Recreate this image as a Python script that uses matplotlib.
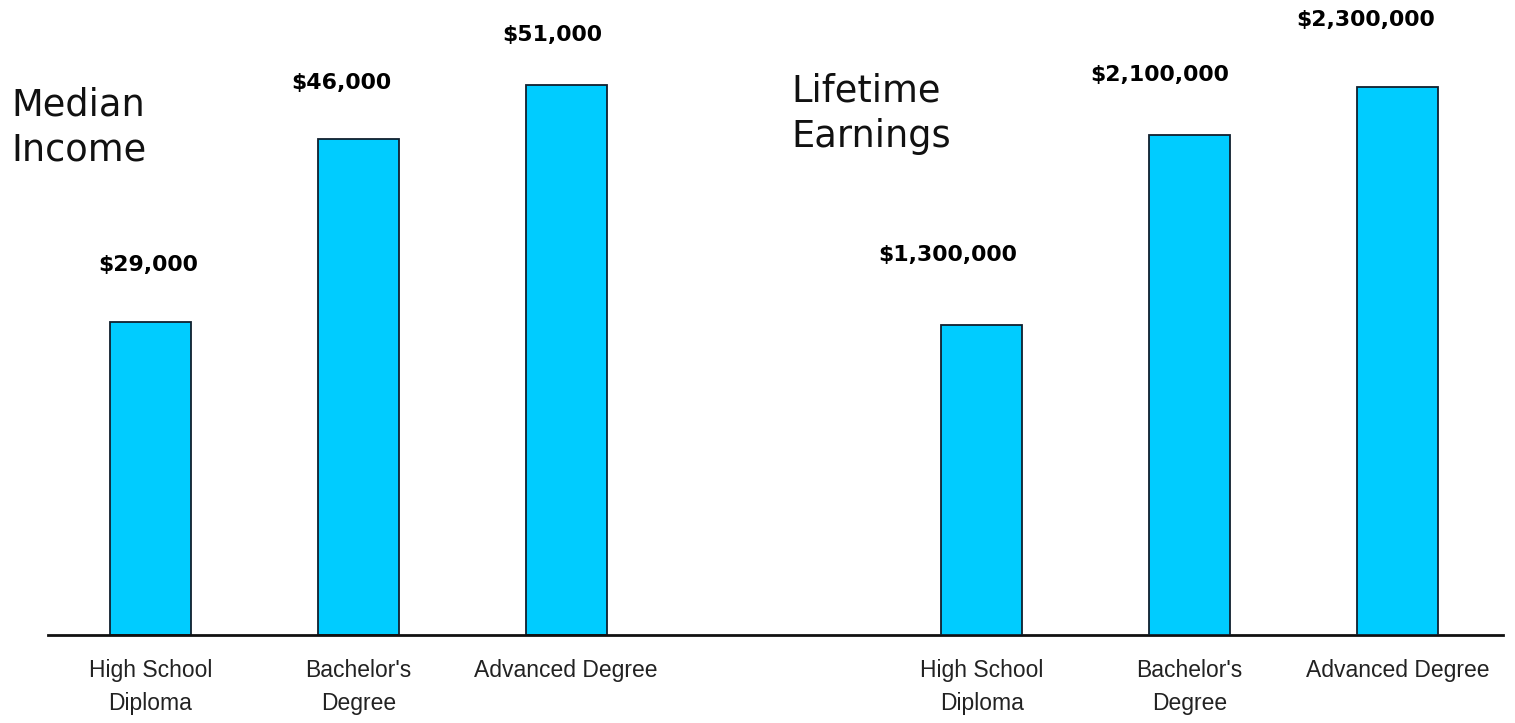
import matplotlib
matplotlib.use("Agg")
import matplotlib.pyplot as plt

categories = ["High School\nDiploma", "Bachelor's\nDegree", "Advanced Degree"]
median_income = [29000, 46000, 51000]
lifetime_earnings = [1300000, 2100000, 2300000]
median_labels = ["$29,000", "$46,000", "$51,000"]
lifetime_labels = ["$1,300,000", "$2,100,000", "$2,300,000"]

left_pos = [0, 1, 2]
right_pos = [4, 5, 6]

# label offsets from bar top, pixels (the original is a bit uneven)
left_off = [(-2, 57), (-17, 56), (-14, 50)]
right_off = [(-34, 70), (-30, 60), (-32, 67)]

bar_color = "#00CCFF"
edge = "#10202e"

fig = plt.figure(figsize=(15.15, 7.23), dpi=100)
ax = fig.add_axes([48 / 1515, 88 / 723, 1455 / 1515, 635 / 723])
ax2 = ax.twinx()

ax.bar(left_pos, median_income, width=0.39, color=bar_color, edgecolor=edge, linewidth=1.3)
ax2.bar(right_pos, lifetime_earnings, width=0.39, color=bar_color, edgecolor=edge, linewidth=1.3)

ax.set_xlim(-0.493, 6.508)
ax.set_ylim(0, 58870)
ax2.set_ylim(0, 2665000)

for a in (ax, ax2):
    for s in ["top", "right", "left"]:
        a.spines[s].set_visible(False)
    a.set_yticks([])
ax2.spines["bottom"].set_visible(False)
ax.spines["bottom"].set_linewidth(2)
ax.spines["bottom"].set_color("#111111")

ax.set_xticks(left_pos + right_pos)
ax.set_xticklabels(categories + categories, fontsize=16.5, family="Liberation Sans",
                   color="#222222", linespacing=1.6)
ax.tick_params(axis="x", length=0, pad=17)

for x, v, t, (dx, dy) in zip(left_pos, median_income, median_labels, left_off):
    ax.annotate(t, (x, v), xytext=(dx, dy), textcoords="offset pixels",
                ha="center", va="center", fontsize=15.8, fontweight="bold")
for x, v, t, (dx, dy) in zip(right_pos, lifetime_earnings, lifetime_labels, right_off):
    ax2.annotate(t, (x, v), xytext=(dx, dy), textcoords="offset pixels",
                 ha="center", va="center", fontsize=15.8, fontweight="bold")

fig.text(11 / 1515, 1 - 86 / 723, "Median\nIncome", fontsize=26.5, va="top", ha="left",
         color="#111111", linespacing=1.3)
fig.text(791 / 1515, 1 - 72 / 723, "Lifetime\nEarnings", fontsize=26.5, va="top", ha="left",
         color="#111111", linespacing=1.3)

fig.savefig("out.png", dpi=100)
